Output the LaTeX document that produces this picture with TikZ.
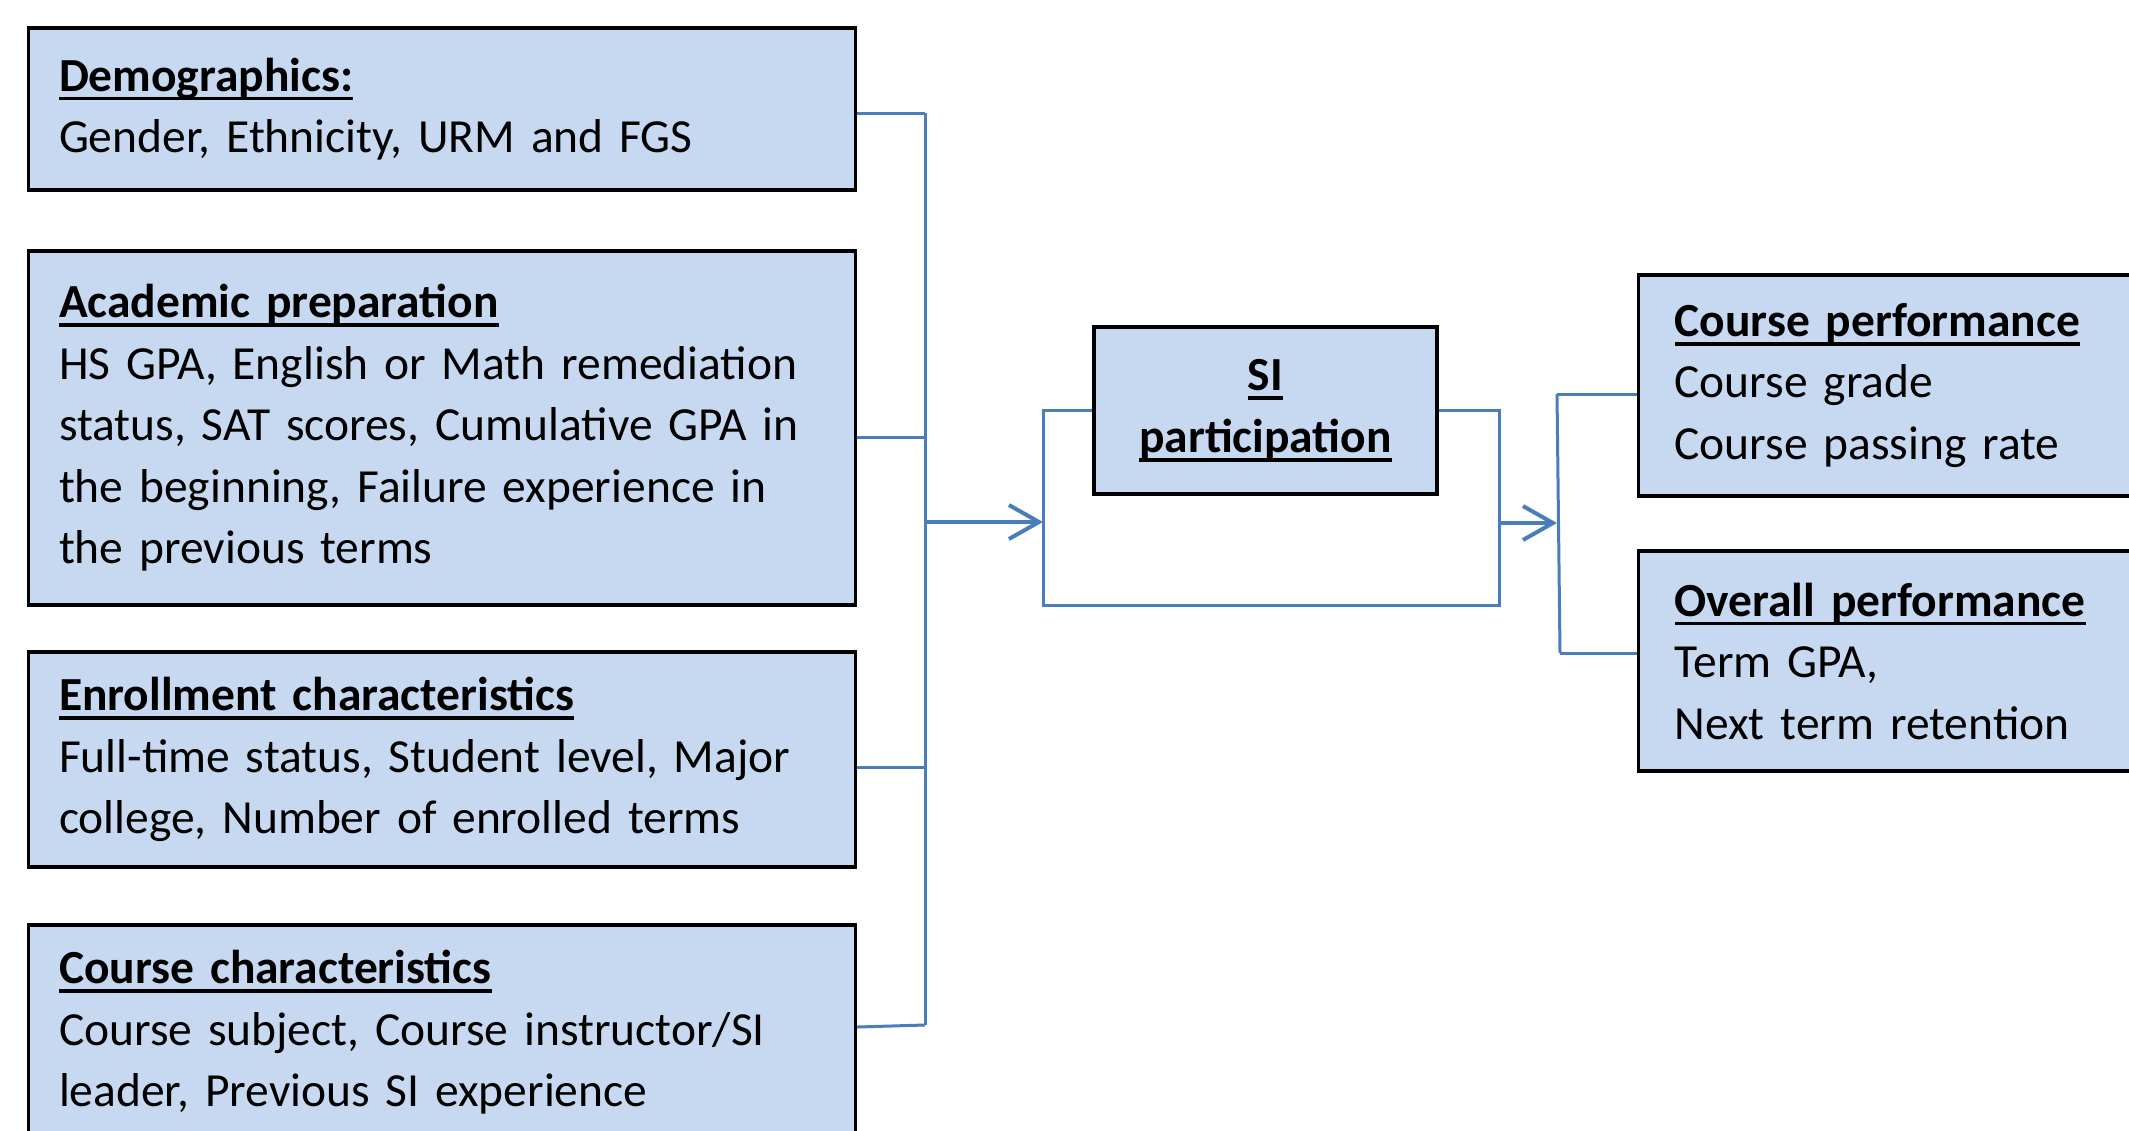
\documentclass[tikz,border=0pt]{standalone}
\usepackage{fontspec}
\setmainfont[WordSpace=0.8]{Carlito}
\usetikzlibrary{arrows.meta}
\definecolor{boxfill}{HTML}{C6D9F1}
\definecolor{linkblue}{HTML}{4A7EBB}
\newcommand\hdul[1]{\setbox0\hbox{\bfseries #1}\rlap{\rule[-4.7pt]{\wd0}{1.9pt}}\box0}
\tikzset{
  basebox/.style={draw=black, line width=1.6pt, fill=boxfill, rectangle, inner ysep=0pt,
    font=\fontsize{23.75pt}{30.75pt}\selectfont},
  inbox/.style={basebox, anchor=west, minimum width=413.5pt, text width=383.1pt,
    inner xsep=15.2pt, align=left},
  outbox/.style={basebox, anchor=west, minimum width=280pt, text width=244pt,
    inner xsep=18pt, align=left},
  sibox/.style={basebox, minimum width=171.5pt, minimum height=83.5pt, align=center},
  conn/.style={draw=linkblue, line width=1.5pt},
  arr/.style={draw=linkblue, line width=2pt, -{Straight Barb[length=15pt,width=17pt]}},
}
\begin{document}
\begin{tikzpicture}[x=0.5pt,y=-0.5pt]
\useasboundingbox (0,0) rectangle (2129,1130);
\fill[white] (0,0) rectangle (2129,1130);
\clip (0,0) rectangle (2129,1130);

% left boxes
\node[inbox, minimum height=81pt] (demo) at (27,109)
  {\hdul{Demographics:}\\Gender, Ethnicity, URM and FGS};
\node[inbox, minimum height=177pt] (acad) at (27,428)
  {\hdul{Academic preparation}\\HS GPA, English or Math remediation\\status, SAT scores, Cumulative GPA in\\the beginning, Failure experience in\\the previous terms};
\node[inbox, minimum height=107.5pt] (enrl) at (27,759.5)
  {\hdul{Enrollment characteristics}\\Full-time status, Student level, Major\\college, Number of enrolled terms};
\node[inbox, minimum height=107.5pt] (crse) at (27,1032.5)
  {\hdul{Course characteristics}\\Course subject, Course instructor/SI\\leader, Previous SI experience};

% middle box
\node[sibox] (si) at (1265.5,410.5) {\hdul{SI}\\\hdul{participation}};

% right boxes
\node[outbox, minimum height=110.5pt] (cperf) at (1637,385.5)
  {\hdul{Course performance}\\Course grade\\Course passing rate};
\node[outbox, minimum height=110pt] (operf) at (1637,661)
  {\hdul{Overall performance}\\Term GPA,\\Next term retention};

% left bus
\coordinate (busT) at (925,113);
\coordinate (bus2) at (925,437);
\coordinate (bus3) at (925,767);
\coordinate (busB) at (925,1025);
\draw[conn] (busT) -- (busB);
\draw[conn] (demo.east |- busT) -- (busT);
\draw[conn] (acad.east |- bus2) -- (bus2);
\draw[conn] (enrl.east |- bus3) -- (bus3);
\draw[conn] (crse.east |- 0,1027) -- (busB);

% bracket around SI
\coordinate (bL) at (1043,605);
\coordinate (bR) at (1499,605);
\draw[conn] (si.west) -| (bL) -- (bR) |- (si.east);

% arrows
\coordinate (a1s) at (925,522);
\draw[arr] (a1s) -- (a1s -| bL);
\coordinate (a2s) at (1499,523);
\coordinate (rbusT) at (1557,394);
\coordinate (rbusB) at (1560,653);
\draw[arr] (a2s) -- (a2s -| rbusT);

% right bus
\draw[conn] (rbusT) -- (rbusB);
\draw[conn] (rbusT) -- (cperf.west |- rbusT);
\draw[conn] (rbusB) -- (operf.west |- rbusB);
\end{tikzpicture}
\end{document}
